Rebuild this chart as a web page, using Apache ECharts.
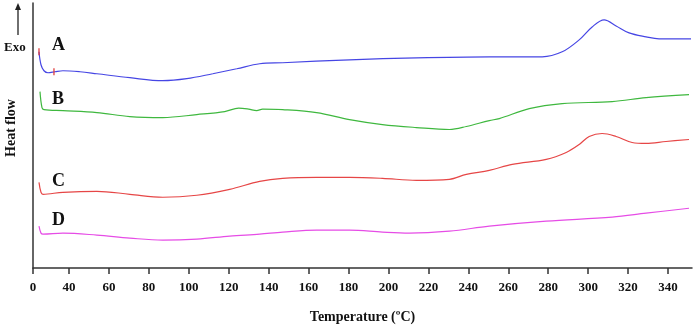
<!DOCTYPE html>
<html>
<head>
<meta charset="utf-8">
<script src="https://cdn.jsdelivr.net/npm/echarts@6/dist/echarts.min.js"></script>
<style>
  html, body { margin: 0; padding: 0; background: #fff; }
  #chart { width: 693px; height: 329px; }
</style>
</head>
<body>
<div id="chart"></div>
<script>
// Temperature (°C) vs heat flow (arbitrary offset units)
const curveA = [
  [25, 217], [26, 204], [27.5, 198], [29.5, 196], [33, 197], [37, 198], [45.5, 197],
  [54, 195], [70.5, 191], [87, 188], [99, 190], [112, 195], [124, 200], [135.5, 205],
  [147, 206], [180.5, 209], [214, 211], [250.5, 212], [277, 212], [287, 217],
  [295.5, 229], [302, 242], [308, 249], [314, 243], [320.5, 236], [329, 232],
  [335.5, 230], [351.5, 230]
];
const curveB = [
  [25.5, 177], [26.5, 161], [27.5, 159], [37, 158], [54, 156], [70.5, 152], [87, 151],
  [104, 154], [118, 157], [125, 160.5], [130, 159.5], [134, 158], [137, 159.5],
  [147, 159], [164, 156], [180.5, 149], [197, 144], [214, 141], [230.5, 139],
  [239, 142], [250.5, 148], [255.5, 150], [270.5, 160], [287, 165], [312, 167],
  [329, 171], [350.5, 174]
];
const curveC = [
  [25, 86], [26, 76], [27, 74], [37, 76], [54, 77], [70.5, 74], [87, 71], [104, 73],
  [120.5, 79], [135.5, 87], [147, 90], [164, 91], [180.5, 91], [197, 90], [214, 88],
  [230.5, 89], [239, 94], [250.5, 98], [262, 104], [279, 109], [289, 116],
  [295.5, 124], [300.5, 132], [307, 135], [314, 132], [322, 126], [329, 125],
  [339, 127], [350.5, 129]
];
const curveD = [
  [25, 42], [26, 35], [27, 34], [37, 35], [54, 33], [70.5, 30], [87, 28], [104, 29],
  [120.5, 32], [135.5, 34], [147, 36], [164, 38], [180.5, 38], [197, 36], [210.5, 35],
  [230.5, 37], [250.5, 42], [279, 47], [312, 51], [329, 55], [350.5, 60]
];
// onset / end markers on curve A
const markersA = [[25, 217], [32.5, 197]];

const tickValues = [22, 40, 60, 80, 100, 120, 140, 160, 180, 200, 220, 240, 260, 280, 300, 320, 340];
const tickLabels = ['0', '40', '60', '80', '100', '120', '140', '160', '180', '200', '220', '240', '260', '280', '300', '320', '340'];

const seriesNames = ['A', 'B', 'C', 'D'];
const seriesColors = ['#4646e4', '#3fb83f', '#e64646', '#e64ce6'];
const seriesData = [curveA, curveB, curveC, curveD];

const serif = '"Liberation Serif", "Times New Roman", serif';
const axisColor = '#333';

const chart = echarts.init(document.getElementById('chart'));

const lineSeries = seriesData.map((d, i) => ({
  name: seriesNames[i],
  type: 'line',
  data: d,
  smooth: 0.35,
  showSymbol: false,
  silent: true,
  lineStyle: { color: seriesColors[i], width: 1.2 },
  z: 2
}));

chart.setOption({
  animation: false,
  grid: { left: 33, right: 1, top: 3, bottom: 60 },
  xAxis: {
    type: 'value',
    min: 22,
    max: 352,
    name: 'Temperature (ºC)',
    nameLocation: 'middle',
    nameGap: 42,
    nameTextStyle: { fontFamily: serif, fontWeight: 'bold', fontSize: 14, color: '#111' },
    axisLine: { show: true, lineStyle: { color: axisColor, width: 1.5 } },
    axisTick: { show: true, customValues: tickValues, length: 6, inside: false,
      lineStyle: { color: axisColor, width: 1.5 } },
    axisLabel: {
      customValues: tickValues,
      formatter: (v) => tickLabels[tickValues.indexOf(v)] ?? '',
      fontFamily: serif, fontWeight: 'bold', fontSize: 13, color: '#111', margin: 13
    },
    splitLine: { show: false }
  },
  yAxis: {
    type: 'value',
    min: 0,
    max: 266,
    axisLine: { show: true, lineStyle: { color: axisColor, width: 1.5 } },
    axisTick: { show: false },
    axisLabel: { show: false },
    splitLine: { show: false }
  },
  series: [
    ...lineSeries,
    {
      type: 'scatter',
      data: markersA,
      symbol: 'rect',
      symbolSize: [1.5, 7],
      silent: true,
      itemStyle: { color: '#e03030' },
      z: 3
    }
  ],
  graphic: [
    { type: 'text', left: 52, top: 36, style: { text: 'A', font: 'bold 18px ' + serif, fill: '#111' } },
    { type: 'text', left: 52, top: 90, style: { text: 'B', font: 'bold 18px ' + serif, fill: '#111' } },
    { type: 'text', left: 52, top: 172, style: { text: 'C', font: 'bold 18px ' + serif, fill: '#111' } },
    { type: 'text', left: 52, top: 211, style: { text: 'D', font: 'bold 18px ' + serif, fill: '#111' } },
    { type: 'text', left: 4, top: 41, style: { text: 'Exo', font: 'bold 13px ' + serif, fill: '#111' } },
    { type: 'line', shape: { x1: 18, y1: 8, x2: 18, y2: 35 }, style: { stroke: '#222', lineWidth: 1.3 } },
    { type: 'polygon', shape: { points: [[18, 3], [15, 10], [21, 10]] }, style: { fill: '#222' } },
    {
      type: 'text', x: 11, y: 128, rotation: Math.PI / 2,
      style: { text: 'Heat flow', font: 'bold 14px ' + serif, fill: '#111', align: 'center', verticalAlign: 'middle' }
    }
  ]
});
</script>
</body>
</html>
